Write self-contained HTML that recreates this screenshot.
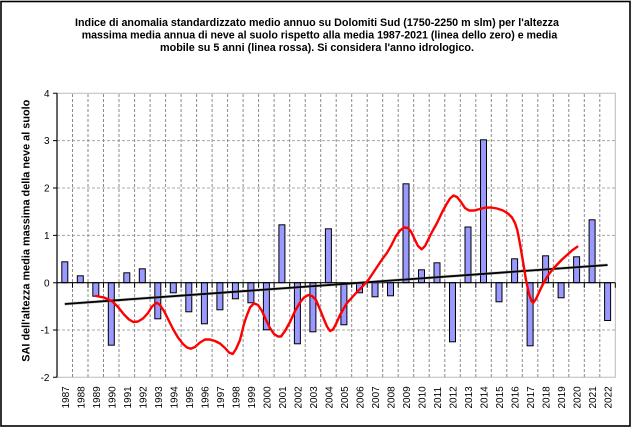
<!DOCTYPE html>
<html><head><meta charset="utf-8"><style>
html,body{margin:0;padding:0;background:#fff;}
svg{display:block;}
text{font-family:"Liberation Sans",Arial,sans-serif;}
</style></head><body>
<svg width="632" height="428" viewBox="0 0 632 428" xmlns="http://www.w3.org/2000/svg">
<rect x="0" y="0" width="632" height="428" fill="#fff"/>
<rect x="1" y="1.5" width="629" height="424.5" fill="none" stroke="#000" stroke-width="1.6"/>
<g font-weight="bold" font-size="11" fill="#000">
<text x="75" y="26" textLength="484" lengthAdjust="spacingAndGlyphs">Indice di anomalia standardizzato medio annuo su Dolomiti Sud (1750-2250 m slm) per l'altezza</text>
<text x="81.7" y="38.5" textLength="475.6" lengthAdjust="spacingAndGlyphs">massima media annua di neve al suolo rispetto alla media 1987-2021 (linea dello zero) e media</text>
<text x="160" y="51" textLength="314" lengthAdjust="spacingAndGlyphs">mobile su 5 anni (linea rossa). Si considera l'anno idrologico.</text>
<text transform="translate(29.5,361.7) rotate(-90)" textLength="262" lengthAdjust="spacingAndGlyphs">SAI dell'altezza media massima della neve al suolo</text>
</g>
<!-- plot border -->
<polyline points="57,93.3 615.3,93.3 615.3,377.3 57,377.3" fill="none" stroke="#bbb" stroke-width="1"/>
<!-- horizontal gridlines -->
<g stroke="#a8a8a8" stroke-width="1" stroke-dasharray="3,2">
<line x1="57" y1="140.6" x2="615.3" y2="140.6"/>
<line x1="57" y1="188" x2="615.3" y2="188"/>
<line x1="57" y1="235.4" x2="615.3" y2="235.4"/>
<line x1="57" y1="330" x2="615.3" y2="330"/>
</g>
<!-- vertical gridlines -->
<g stroke="#8a8a8a" stroke-width="1" stroke-dasharray="3,2">
<line x1="72.5" y1="94" x2="72.5" y2="377"/><line x1="88" y1="94" x2="88" y2="377"/><line x1="103.5" y1="94" x2="103.5" y2="377"/><line x1="119" y1="94" x2="119" y2="377"/><line x1="134.6" y1="94" x2="134.6" y2="377"/><line x1="150.1" y1="94" x2="150.1" y2="377"/><line x1="165.6" y1="94" x2="165.6" y2="377"/><line x1="181.1" y1="94" x2="181.1" y2="377"/><line x1="196.6" y1="94" x2="196.6" y2="377"/><line x1="212.1" y1="94" x2="212.1" y2="377"/><line x1="227.6" y1="94" x2="227.6" y2="377"/><line x1="243.1" y1="94" x2="243.1" y2="377"/><line x1="258.6" y1="94" x2="258.6" y2="377"/><line x1="274.1" y1="94" x2="274.1" y2="377"/><line x1="289.7" y1="94" x2="289.7" y2="377"/><line x1="305.2" y1="94" x2="305.2" y2="377"/><line x1="320.7" y1="94" x2="320.7" y2="377"/><line x1="336.2" y1="94" x2="336.2" y2="377"/><line x1="351.7" y1="94" x2="351.7" y2="377"/><line x1="367.2" y1="94" x2="367.2" y2="377"/><line x1="382.7" y1="94" x2="382.7" y2="377"/><line x1="398.2" y1="94" x2="398.2" y2="377"/><line x1="413.7" y1="94" x2="413.7" y2="377"/><line x1="429.2" y1="94" x2="429.2" y2="377"/><line x1="444.8" y1="94" x2="444.8" y2="377"/><line x1="460.3" y1="94" x2="460.3" y2="377"/><line x1="475.8" y1="94" x2="475.8" y2="377"/><line x1="491.3" y1="94" x2="491.3" y2="377"/><line x1="506.8" y1="94" x2="506.8" y2="377"/><line x1="522.3" y1="94" x2="522.3" y2="377"/><line x1="537.8" y1="94" x2="537.8" y2="377"/><line x1="553.3" y1="94" x2="553.3" y2="377"/><line x1="568.8" y1="94" x2="568.8" y2="377"/><line x1="584.3" y1="94" x2="584.3" y2="377"/><line x1="599.8" y1="94" x2="599.8" y2="377"/>
</g>
<!-- bars -->
<g fill="#9999ff" stroke="#000" stroke-width="1">
<rect x="61.8" y="261.8" width="6" height="20.9"/>
<rect x="77.3" y="275.8" width="6" height="6.9"/>
<rect x="92.8" y="282.7" width="6" height="13.5"/>
<rect x="108.3" y="282.7" width="6" height="62.5"/>
<rect x="123.8" y="272.8" width="6" height="9.9"/>
<rect x="139.3" y="268.8" width="6" height="13.9"/>
<rect x="154.8" y="282.7" width="6" height="36.1"/>
<rect x="170.3" y="282.7" width="6" height="10.1"/>
<rect x="185.8" y="282.7" width="6" height="29.1"/>
<rect x="201.4" y="282.7" width="6" height="41.1"/>
<rect x="216.9" y="282.7" width="6" height="27.1"/>
<rect x="232.4" y="282.7" width="6" height="16.1"/>
<rect x="247.9" y="282.7" width="6" height="20.1"/>
<rect x="263.4" y="282.7" width="6" height="47.1"/>
<rect x="278.9" y="224.8" width="6" height="57.9"/>
<rect x="294.4" y="282.7" width="6" height="61.1"/>
<rect x="309.9" y="282.7" width="6" height="49.1"/>
<rect x="325.4" y="228.8" width="6" height="53.9"/>
<rect x="340.9" y="282.7" width="6" height="42.1"/>
<rect x="356.5" y="282.7" width="6" height="10.1"/>
<rect x="372" y="282.7" width="6" height="14.1"/>
<rect x="387.5" y="282.7" width="6" height="13.1"/>
<rect x="403" y="183.8" width="6" height="98.9"/>
<rect x="418.5" y="269.8" width="6" height="12.9"/>
<rect x="434" y="262.8" width="6" height="19.9"/>
<rect x="449.5" y="282.7" width="6" height="59.1"/>
<rect x="465" y="227" width="6" height="55.7"/>
<rect x="480.5" y="139.8" width="6" height="142.9"/>
<rect x="496" y="282.7" width="6" height="19.1"/>
<rect x="511.6" y="258.8" width="6" height="23.9"/>
<rect x="527.1" y="282.7" width="6" height="63.1"/>
<rect x="542.6" y="255.8" width="6" height="26.9"/>
<rect x="558.1" y="282.7" width="6" height="15.1"/>
<rect x="573.6" y="256.8" width="6" height="25.9"/>
<rect x="589.1" y="219.8" width="6" height="62.9"/>
<rect x="604.6" y="282.7" width="6" height="37.8"/>
</g>
<!-- x axis at zero -->
<line x1="57" y1="282.7" x2="615.3" y2="282.7" stroke="#000" stroke-width="1.2"/>
<g stroke="#000" stroke-width="1">
<path d="M72.5 282.7v5M88 282.7v5M103.5 282.7v5M119 282.7v5M134.6 282.7v5M150.1 282.7v5M165.6 282.7v5M181.1 282.7v5M196.6 282.7v5M212.1 282.7v5M227.6 282.7v5M243.1 282.7v5M258.6 282.7v5M274.1 282.7v5M289.7 282.7v5M305.2 282.7v5M320.7 282.7v5M336.2 282.7v5M351.7 282.7v5M367.2 282.7v5M382.7 282.7v5M398.2 282.7v5M413.7 282.7v5M429.2 282.7v5M444.8 282.7v5M460.3 282.7v5M475.8 282.7v5M491.3 282.7v5M506.8 282.7v5M522.3 282.7v5M537.8 282.7v5M553.3 282.7v5M568.8 282.7v5M584.3 282.7v5M599.8 282.7v5M615.3 282.7v5"/>
</g>
<!-- trend line -->
<line x1="64.8" y1="304" x2="607.6" y2="265" stroke="#888" stroke-width="3" opacity="0.5"/>
<line x1="64.8" y1="304" x2="607.6" y2="265" stroke="#000" stroke-width="1.8"/>
<!-- red moving average -->
<polyline fill="none" stroke="#ff0000" stroke-width="2.4" stroke-linejoin="round" stroke-linecap="round" points="96,296 104,297.5 112.5,301.5 118,307 124,314.5 129,319.5 133.3,322 138,321.5 143,318.5 148,313 152,306.5 156.7,302.7 160,305 164,311 168,319 173,329 178,337.5 183,344 187,347.5 190.7,348.7 195,347 200,342.5 205,339.5 210,339.5 215,341 220,343.5 225,348 229,352.5 232.7,354 236,349 240,340 244,324 247,315 250,307.5 254,303.3 258,305 262,311 266,320 270,328 274,334 278,336.5 281,336.5 285,331 290,322 295,311 300,302.5 304,297.5 308.3,295 312,296 316,300 320,309.5 324,319.5 327,326.5 330,331 333,329.5 336,324 340,315 346.7,303.3 352,297.5 357,292 362,287 368.3,280 373,273 378,265.5 382,259.5 386.7,253.3 391,246 396,236 400,230.5 404,227.5 408,228 411,231.5 415,240 418,246 421.7,249.3 425,246 428,240 432,232 437,223 442,212.5 446,205 450,198.5 453.5,195.5 457,197 461,202 465,208 469,210.5 474,210.5 480,209 485,207.7 491,207.5 497,208.5 503,210.5 508,213.5 512,217.5 515,223 517.3,230 520,244 523.3,263.3 526,280 529,294 531.5,301 533.3,302.7 536,299 539,292.5 542,286 545,280.5 549,274 553,269 556.7,265 562,259.5 567,255 572,250.5 577.3,246.7"/>
<!-- y axis -->
<line x1="57" y1="93.3" x2="57" y2="377.3" stroke="#000" stroke-width="1.2"/>
<g stroke="#000" stroke-width="1">
<path d="M53 93.3h4M53 140.6h4M53 188h4M53 235.4h4M53 282.7h4M53 330h4M53 377.3h4"/>
</g>
<g font-size="10" fill="#000" text-anchor="end">
<text x="49.5" y="96.9">4</text>
<text x="49.5" y="144.2">3</text>
<text x="49.5" y="191.6">2</text>
<text x="49.5" y="239">1</text>
<text x="49.5" y="286.3">0</text>
<text x="49.5" y="333.6">-1</text>
<text x="49.5" y="380.9">-2</text>
</g>
<!-- x labels -->
<g font-size="10" fill="#000">
<text transform="translate(68.8,408.5) rotate(-90)">1987</text>
<text transform="translate(84.3,408.5) rotate(-90)">1988</text>
<text transform="translate(99.8,408.5) rotate(-90)">1989</text>
<text transform="translate(115.3,408.5) rotate(-90)">1990</text>
<text transform="translate(130.8,408.5) rotate(-90)">1991</text>
<text transform="translate(146.3,408.5) rotate(-90)">1992</text>
<text transform="translate(161.8,408.5) rotate(-90)">1993</text>
<text transform="translate(177.3,408.5) rotate(-90)">1994</text>
<text transform="translate(192.8,408.5) rotate(-90)">1995</text>
<text transform="translate(208.4,408.5) rotate(-90)">1996</text>
<text transform="translate(223.9,408.5) rotate(-90)">1997</text>
<text transform="translate(239.4,408.5) rotate(-90)">1998</text>
<text transform="translate(254.9,408.5) rotate(-90)">1999</text>
<text transform="translate(270.4,408.5) rotate(-90)">2000</text>
<text transform="translate(285.9,408.5) rotate(-90)">2001</text>
<text transform="translate(301.4,408.5) rotate(-90)">2002</text>
<text transform="translate(316.9,408.5) rotate(-90)">2003</text>
<text transform="translate(332.4,408.5) rotate(-90)">2004</text>
<text transform="translate(347.9,408.5) rotate(-90)">2005</text>
<text transform="translate(363.5,408.5) rotate(-90)">2006</text>
<text transform="translate(379,408.5) rotate(-90)">2007</text>
<text transform="translate(394.5,408.5) rotate(-90)">2008</text>
<text transform="translate(410,408.5) rotate(-90)">2009</text>
<text transform="translate(425.5,408.5) rotate(-90)">2010</text>
<text transform="translate(441,408.5) rotate(-90)">2011</text>
<text transform="translate(456.5,408.5) rotate(-90)">2012</text>
<text transform="translate(472,408.5) rotate(-90)">2013</text>
<text transform="translate(487.5,408.5) rotate(-90)">2014</text>
<text transform="translate(503,408.5) rotate(-90)">2015</text>
<text transform="translate(518.6,408.5) rotate(-90)">2016</text>
<text transform="translate(534.1,408.5) rotate(-90)">2017</text>
<text transform="translate(549.6,408.5) rotate(-90)">2018</text>
<text transform="translate(565.1,408.5) rotate(-90)">2019</text>
<text transform="translate(580.6,408.5) rotate(-90)">2020</text>
<text transform="translate(596.1,408.5) rotate(-90)">2021</text>
<text transform="translate(611.6,408.5) rotate(-90)">2022</text>
</g>
</svg>
</body></html>
